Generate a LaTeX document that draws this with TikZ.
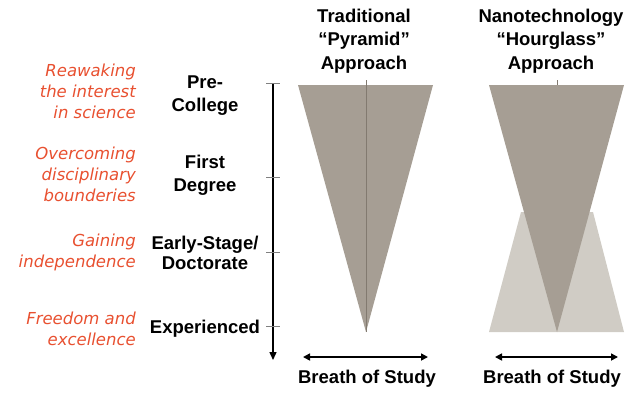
\documentclass[tikz,border=0pt]{standalone}
\usepackage{fontspec}
\setmainfont{Liberation Sans}
\newfontfamily\notefont{DejaVu Sans}
\usetikzlibrary{arrows.meta}
\definecolor{darkfill}{RGB}{166,158,148}
\definecolor{lightfill}{RGB}{208,204,197}
\definecolor{midline}{RGB}{130,122,112}
\definecolor{redtext}{RGB}{232,80,48}
\tikzset{
  lvl/.style={font=\bfseries\fontsize{18.5}{23}\selectfont, align=center, inner sep=0pt},
  note/.style={font=\notefont\itshape\fontsize{16.5}{21}\selectfont, text=redtext, align=right, anchor=east, inner sep=0pt},
  head/.style={font=\bfseries\fontsize{18.5}{23.5}\selectfont, align=center, inner sep=0pt},
  breadth/.style={{Triangle[length=7pt,width=7pt]}-{Triangle[length=7pt,width=7pt]}, line width=1.6pt},
}
\begin{document}
\begin{tikzpicture}[x=1pt,y=-1pt]
\useasboundingbox (0,0) rectangle (642,394);
% headings
\node[head] (h1) at (364,41) {Traditional\\“Pyramid”\\Approach};
\node[head] (h2) at (551,41) {Nanotechnology\\“Hourglass”\\Approach};
% pyramid
\fill[darkfill] (298,85) -- (433,85) -- (366,332) -- cycle;
\coordinate (pt) at (366,80);
\coordinate (pb) at (366,332);
\draw[midline, line width=0.6pt] (pt) -- (pb);
% hourglass
\fill[lightfill] (489,332) -- (624,332) -- (593,212) -- (521,212) -- cycle;
\fill[darkfill] (489,85) -- (624,85) -- (557,332) -- cycle;
\coordinate (ht) at (557,80);
\coordinate (hb) at (557,85);
\draw[midline, line width=0.6pt] (ht) -- (hb);
% vertical axis
\coordinate (at) at (273,83);
\coordinate (ab) at (273,360);
\draw[line width=1.4pt, -{Triangle[length=8pt,width=7pt]}] (at) -- (ab);
\foreach \yy in {83,177,252,326} \draw[gray, line width=0.5pt] (266,\yy) -- (280,\yy);
% levels
\node[lvl] (l1) at (205,96) {Pre-\\College};
\node[lvl] (l2) at (205,175) {First\\Degree};
\node[lvl, font=\bfseries\fontsize{18.5}{20}\selectfont] (l3) at (205,253) {Early-Stage/\\Doctorate};
\node[lvl] (l4) at (205,329) {Experienced};
% notes
\node[note] (n1) at (136,91) {Reawaking\\the interest\\in science};
\node[note] (n2) at (136,174) {Overcoming\\disciplinary\\bounderies};
\node[note] (n3) at (136,252) {Gaining\\independence};
\node[note] (n4) at (136,329) {Freedom and\\excellence};
% breadth arrows
\coordinate (b1l) at (303,357);
\coordinate (b1r) at (428,357);
\coordinate (b2l) at (495,357);
\coordinate (b2r) at (618,357);
\draw[breadth] (b1l) -- (b1r);
\draw[breadth] (b2l) -- (b2r);
\node[head] (s1) at (367,379) {Breath of Study};
\node[head] (s2) at (552,379) {Breath of Study};
\end{tikzpicture}
\end{document}
